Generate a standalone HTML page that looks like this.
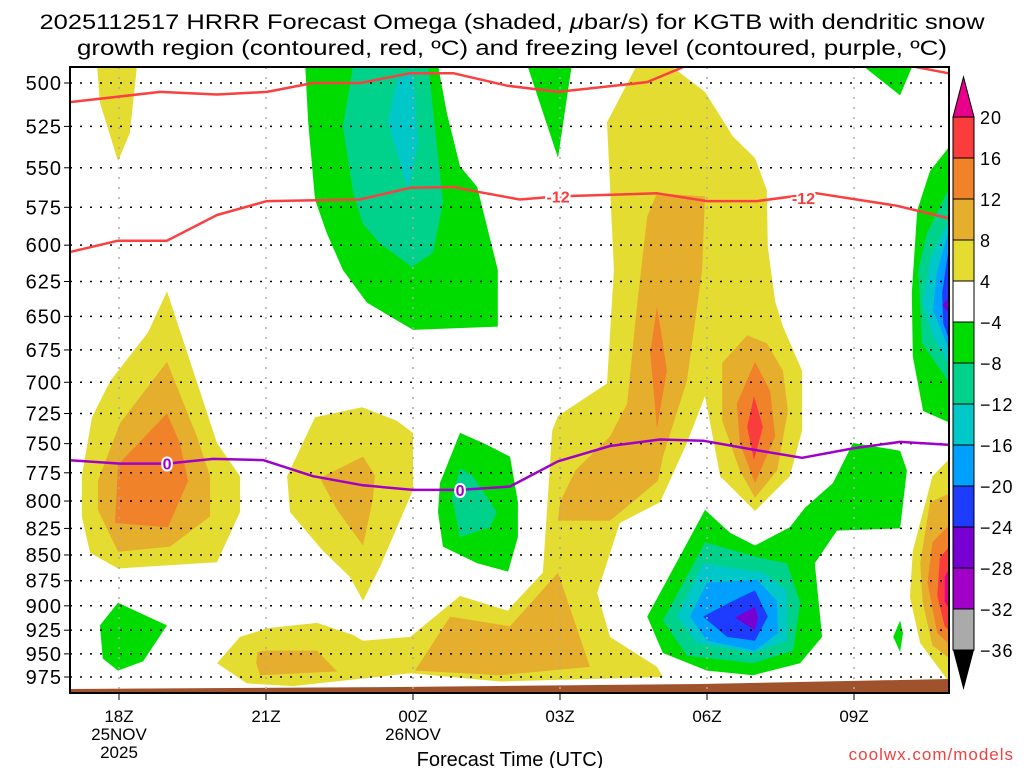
<!DOCTYPE html>
<html><head><meta charset="utf-8">
<style>
body{margin:0;background:#fff;}
svg{display:block;font-family:"Liberation Sans","DejaVu Sans",sans-serif;}
</style></head>
<body>
<svg id="chart" width="1024" height="768" viewBox="0 0 1024 768" xmlns="http://www.w3.org/2000/svg">
<text x="512" y="29" text-anchor="middle" font-size="21" textLength="945" lengthAdjust="spacingAndGlyphs">2025112517 HRRR Forecast Omega (shaded, <tspan font-style="italic">μ</tspan>bar/s) for KGTB with dendritic snow</text>
<text x="512" y="55" text-anchor="middle" font-size="21" textLength="870" lengthAdjust="spacingAndGlyphs">growth region (contoured, red, ºC) and freezing level (contoured, purple, ºC)</text>
<defs><clipPath id="plotclip"><rect x="70" y="67" width="879" height="626"/></clipPath></defs>
<g id="fills" clip-path="url(#plotclip)"></g>
<g id="grid"></g>
<g id="lines" clip-path="url(#plotclip)"></g>
<rect x="70" y="67" width="879" height="626" fill="none" stroke="#000" stroke-width="2"/>
<g id="yaxis"></g>
<g id="xaxis"></g>
<text x="510" y="766" text-anchor="middle" font-size="20">Forecast Time (UTC)</text>
<text x="1014" y="760" text-anchor="end" font-size="17" fill="#f04040" letter-spacing="1">coolwx.com/models</text>
<g id="cbar"></g>
</svg>
<script>
// ---- data ----
var pressureTicks = [500,525,550,575,600,625,650,675,700,725,750,775,800,825,850,875,900,925,950,975];
var hourTicks = [0,3,6,9,12,15];
var hourTickLabels = [["18Z","25NOV","2025"],["21Z"],["00Z","26NOV"],["03Z"],["06Z"],["09Z"]];
var colorbarLevels = [20,16,12,8,4,-4,-8,-12,-16,-20,-24,-28,-32,-36];
var colorbarColors = ["#fa3c3c","#f0822a","#e5ae2d","#e5dc32","#ffffff","#00dc00","#00d28c","#00c8c8","#00a0ff","#1e3cff","#7800d2","#a000c8","#aaaaaa"];
var levelColors = {y:"#e5dc32",g:"#e5ae2d",o:"#f0822a",r:"#fa3c3c",m:"#e8008a",G:"#00dc00",T:"#00d28c",C:"#00c8c8",L:"#00a0ff",B:"#1e3cff",P:"#7800d2",Q:"#a000c8"};
// shaded regions: [level, [[hour since 18Z, hPa], ...]]
var shadedRegions = [
["y",[[0.98,632],[0.59,662],[-0.18,699],[-0.55,728],[-0.76,778],[-0.76,814],[-0.59,848],[-0.02,863],[2.0,857],[2.47,810],[2.47,778],[2.0,749.5]]],
["g",[[0.98,684],[0.02,733],[-0.43,782],[-0.43,808],[-0.02,847],[1.04,842],[1.86,814],[1.86,778],[1.59,744]]],
["o",[[0.98,725],[-0.02,768],[-0.08,820],[1.0,824],[1.41,782],[1.24,749.5]]],
["y",[[4.96,720],[4.0,728],[3.43,778],[3.49,810],[4.16,846],[4.71,871],[4.98,895],[5.33,861],[6.0,790],[6.0,741],[5.67,731]]],
["g",[[4.98,761],[4.1,779.5],[4.45,808],[4.98,841],[5.18,799],[5.22,777]]],
["G",[[-0.02,897],[-0.39,920],[-0.33,955],[-0.02,968],[0.49,958],[0.98,920]]],
["G",[[6.96,741],[6.55,784],[6.51,810],[6.61,842],[7.31,858],[7.94,866],[8.14,833],[8.14,801],[7.98,761],[7.43,749.5]]],
["T",[[6.96,771],[6.8,797],[6.96,833],[7.57,824],[7.71,810],[7.22,778]]],
["y",[[2.0,960],[2.47,932],[3.02,923],[4.04,917.5],[4.78,930],[4.98,936],[5.94,932],[6.96,890],[7.94,905],[7.98,902],[8.65,867],[8.84,739],[8.96,727],[9.96,701],[10.1,617],[9.96,522.5],[10.57,490],[11.24,490],[11.96,505],[12.53,531],[12.98,544],[13.22,564],[13.24,601],[13.39,639],[13.55,657.5],[13.94,691],[13.94,739],[13.69,778],[12.98,809],[12.27,778],[11.96,711],[11.59,749.5],[11.04,801],[10.22,820],[9.76,887],[10.02,932],[10.98,964],[11.1,975],[7.78,980],[5.94,971],[3.55,985],[2.61,982]]],
["g",[[10.98,566],[11.96,568],[11.9,617],[11.59,699],[11.1,761],[11.0,782],[10.02,818],[8.96,818],[9.0,801],[9.31,773],[10.02,744],[10.37,717],[10.57,643],[10.78,581]]],
["o",[[10.98,643],[10.84,677],[10.98,737],[11.18,691],[11.1,670]]],
["g",[[12.82,664],[12.31,685],[12.31,731],[12.67,773],[12.98,797],[13.43,773],[13.65,723],[13.55,691],[13.22,670]]],
["o",[[12.98,684],[12.61,717],[12.67,749.5],[12.98,784],[13.39,744],[13.29,707]]],
["r",[[12.96,711],[12.82,736],[12.96,764],[13.14,736]]],
["g",[[2.8,960],[2.82,948],[3.0,946.5],[4.04,946.5],[4.45,969],[2.88,973]]],
["g",[[6.04,968],[6.76,911],[7.98,921],[8.96,867],[9.61,964],[7.78,973]]],
["G",[[11.96,808],[10.78,911],[11.1,949],[12.0,968],[12.94,973],[13.9,960],[14.35,932],[14.2,858],[14.65,827],[15.94,825],[16.08,773],[15.94,756],[14.98,749.5],[14.57,784],[14.0,806],[13.69,824],[12.98,841],[12.47,829]]],
["T",[[11.96,838],[11.1,915],[11.59,952],[12.94,960],[13.76,946.5],[13.9,897],[13.63,858],[13.02,852]]],
["C",[[11.92,858],[11.39,911],[11.8,938.5],[12.94,949],[13.63,936],[13.63,884.5],[13.14,867]]],
["L",[[12.0,877],[11.65,911],[12.0,936],[12.98,946.5],[13.45,928],[13.43,895],[13.02,874]]],
["B",[[11.92,911],[12.53,895],[12.98,884.5],[13.24,911],[12.98,936],[12.41,932]]],
["P",[[12.57,912],[12.98,901],[13.04,912],[12.98,925]]],
["G",[[15.94,915],[15.8,932],[15.94,948],[16.0,928]]],
["y",[[17.2,764],[16.92,764],[16.6,778],[16.2,846],[16.14,891],[16.35,938.5],[16.92,979],[17.2,979]]],
["g",[[17.2,788],[16.55,801],[16.35,858],[16.4,896],[16.6,941],[17.2,965]]],
["o",[[17.2,810],[16.6,838],[16.5,877],[16.7,928],[17.2,952]]],
["r",[[17.2,827],[16.75,853],[16.7,890],[16.85,921],[17.2,938.5]]],
["m",[[17.2,841],[16.85,871],[16.85,896],[17.2,921]]],
["G",[[17.2,538],[16.92,538],[16.55,552],[16.29,577],[16.18,633],[16.2,680],[16.41,723],[16.92,732],[17.2,732]]],
["T",[[17.2,564],[16.92,564],[16.49,592],[16.31,617],[16.39,670],[16.92,699],[17.2,699]]],
["C",[[17.2,584],[16.92,584],[16.55,610],[16.41,640],[16.61,665],[16.92,685],[17.2,685]]],
["L",[[17.2,592],[16.92,592],[16.69,619],[16.61,645.5],[16.92,673],[17.2,673]]],
["B",[[17.2,605],[16.92,605],[16.8,633],[16.82,655],[16.92,665],[17.2,665]]],
["P",[[17.2,626],[16.8,642],[17.2,657.5]]],
["y",[[-0.45,490],[-0.39,511],[-0.02,546],[0.22,529],[0.37,490]]],
["G",[[3.8,490],[3.86,522],[4.0,570],[4.24,592],[4.57,617],[5.06,640],[6.0,660],[7.73,657.5],[7.73,617],[7.31,562],[6.96,549],[6.69,517],[6.51,490]]],
["T",[[4.78,490],[4.57,525],[4.78,566],[4.98,586],[5.33,599],[5.98,615],[6.41,605],[6.61,572],[6.31,490]]],
["C",[[5.67,498.5],[5.49,523],[5.9,564],[6.1,535],[6.0,493]]],
["G",[[8.33,490],[8.96,544],[9.24,490]]],
["G",[[15.16,490],[15.94,507],[16.2,490]]]
];
var dgzUpperLine = [[-1.04,511],[0.84,505],[2.0,506.5],[3.02,505],[3.96,500],[4.92,500],[5.94,494.5],[6.82,494.5],[7.92,501.5],[8.96,505],[10.78,499.5],[11.7,489]];
var dgzUpperLine2 = [[16.24,491],[16.92,494.5],[17.2,496]];
var dgzLowerLine = [[-1.04,605],[-0.02,597],[0.98,597],[2.0,580],[3.02,571],[4.92,570],[5.94,562.5],[6.82,562],[7.31,565],[8.18,570],[8.96,568],[10.98,566],[12.0,571],[13.02,571],[14.24,566],[15.88,574],[16.92,582]];
var freezingLine = [[-1.04,764],[0.02,767],[0.98,767],[1.92,763],[2.94,764],[3.96,778],[4.98,786],[6.0,790],[6.96,790],[7.98,787],[8.96,765],[10.02,752],[11.04,746.5],[11.92,747.5],[12.94,755],[13.94,762],[14.98,754],[15.94,748.5],[16.92,751]];
var contourLabels = [["-12",8.96,568,"#fa3c3c"],["-12",13.97,569,"#fa3c3c"],["0",0.98,767,"#a000c8"],["0",6.96,790,"#a000c8"]];

// ---- axes ----
function xOf(h){return 119+49*h;}
function yOf(p){return 83+594*Math.log(p/500)/Math.log(975/500);}
var NS="http://www.w3.org/2000/svg";
function mk(tag,attrs,parent){var e=document.createElementNS(NS,tag);for(var k in attrs)e.setAttribute(k,attrs[k]);parent.appendChild(e);return e;}
function ptsStr(arr){return arr.map(function(q){return xOf(q[0]).toFixed(1)+","+yOf(q[1]).toFixed(1);}).join(" ");}

var fills=document.getElementById("fills");
shadedRegions.forEach(function(r,i){
  var e=mk("polygon",{points:ptsStr(r[1]),fill:levelColors[r[0]]},fills);
  
  
});
var g=mk("polygon",{points:"70,689 400,687 700,684 949,679 949,694 70,694",fill:"#a0522d"},fills);



var grid=document.getElementById("grid");
pressureTicks.forEach(function(p){
  var e=mk("line",{x1:70,x2:949,y1:yOf(p),y2:yOf(p),stroke:"#000","stroke-width":1.5,"stroke-dasharray":"2,8"},grid);
  
  
});
hourTicks.forEach(function(h){
  var e=mk("line",{x1:xOf(h),x2:xOf(h),y1:67,y2:693,stroke:"#aaa","stroke-width":1.5,"stroke-dasharray":"2,8"},grid);
  
  
});

var lines=document.getElementById("lines");
function drawLine(arr,col,name){
  var e=mk("polyline",{points:ptsStr(arr),fill:"none",stroke:col,"stroke-width":2.5,"stroke-linejoin":"round"},lines);
  
  
}
drawLine(dgzUpperLine,"#fa4040","dgz-upper-contour");
drawLine(dgzUpperLine2,"#fa4040","dgz-upper-contour-right");
drawLine(dgzLowerLine,"#fa4040","dgz-minus12-contour");
drawLine(freezingLine,"#a000c8","freezing-level-contour");
contourLabels.forEach(function(c){
  var x=xOf(c[1]),y=yOf(c[2]);
  var t=mk("text",{x:x,y:y+6,"text-anchor":"middle","font-size":16,"font-weight":"bold",fill:c[3],stroke:"#fff","stroke-width":4,"paint-order":"stroke"},lines);
  t.textContent=c[0];
  
  
});

var ya=document.getElementById("yaxis");
pressureTicks.forEach(function(p){
  var t=mk("text",{x:62,y:yOf(p)+7,"text-anchor":"end","font-size":20,"letter-spacing":"1"},ya);
  t.textContent=p;
  
  
  var l=mk("line",{x1:70,x2:64,y1:yOf(p),y2:yOf(p),stroke:"#000","stroke-width":1},ya);
  
  
});
var xa=document.getElementById("xaxis");
hourTicks.forEach(function(h,i){
  var l=mk("line",{x1:xOf(h),x2:xOf(h),y1:693,y2:700,stroke:"#000","stroke-width":1},xa);
  
  
  hourTickLabels[i].forEach(function(s,j){
    var t=mk("text",{x:xOf(h),y:722+j*18,"text-anchor":"middle","font-size":17},xa);
    t.textContent=s;
    
    
  });
});

var cb=document.getElementById("cbar");
var cbx=953,cbw=21,cbTop=117,cbStep=41;
var tri=mk("polygon",{points:cbx+","+cbTop+" "+(cbx+cbw)+","+cbTop+" "+(cbx+cbw/2)+","+(cbTop-40),fill:"#e8008a",stroke:"#000","stroke-width":1},cb);


colorbarColors.forEach(function(c,i){
  var r=mk("rect",{x:cbx,y:cbTop+i*cbStep,width:cbw,height:cbStep,fill:c,stroke:"#000","stroke-width":1},cb);
  
  
});
var bot=cbTop+colorbarColors.length*cbStep;
var tri2=mk("polygon",{points:cbx+","+bot+" "+(cbx+cbw)+","+bot+" "+(cbx+cbw/2)+","+(bot+40),fill:"#000"},cb);


colorbarLevels.forEach(function(v,i){
  var t=mk("text",{x:980,y:cbTop+i*cbStep+7,"font-size":18,"letter-spacing":"1"},cb);
  t.textContent=(v<0?"\u2212"+(-v):v);
  
  
});
</script>
</body></html>
